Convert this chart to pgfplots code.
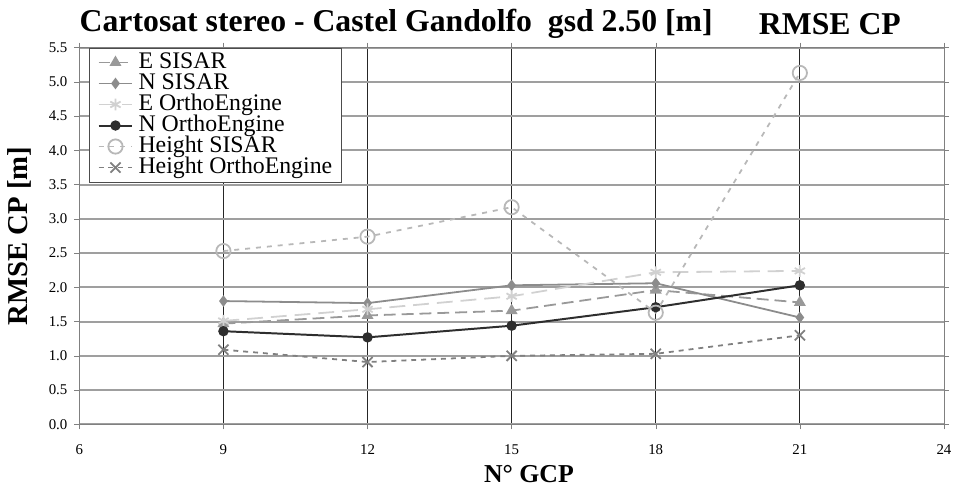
\documentclass[border=0pt]{standalone}
\usepackage{fontspec}
\setmainfont{Liberation Serif}
\usepackage{pgfplots}
\pgfplotsset{compat=1.18}
\usetikzlibrary{calc}
\definecolor{cES}{gray}{0.6}
\definecolor{cNS}{gray}{0.55}
\definecolor{cEO}{gray}{0.82}
\definecolor{cNO}{gray}{0.18}
\definecolor{cHS}{gray}{0.72}
\definecolor{cHO}{gray}{0.5}
\begin{document}
\begin{tikzpicture}
\begin{axis}[
  scale only axis, width=436pt, height=190pt,
  xmin=6, xmax=24, ymin=0, ymax=5.5,
  xtick={6,9,...,24}, ytick={0,0.5,...,5.5},
  /pgf/number format/assume math mode=true,
  yticklabel style={/pgf/number format/.cd,fixed,fixed zerofill,precision=1},
  tick label style={font=\fontsize{7.5}{9}\selectfont},
  xticklabel style={yshift=-4pt},
  grid=major,
  x grid style={black!85, line width=0.45pt},
  y grid style={gray!75, line width=1pt},
  axis line style={gray},
  tick align=outside, major tick length=2.5pt, tick style={gray},
  xlabel={\textbf{N° GCP}},
  ylabel={\textbf{RMSE CP [m]}},
  xlabel style={font=\fontsize{13}{14}\selectfont, at={(rel axis cs:0.52,0)}, anchor=center, yshift=-25pt},
  ylabel style={font=\fontsize{14.5}{16}\selectfont, at={(rel axis cs:-0.069,0.5)}, anchor=center},
  legend style={at={(rel axis cs:0,1)}, anchor=north west, xshift=5pt,
    font=\fontsize{12}{12}\selectfont, draw=black!70, inner xsep=4pt, inner ysep=2pt, row sep=0pt,
    nodes={inner sep=0.6pt, text height=7.6pt, text depth=1.8pt},
    /tikz/every odd column/.append style={column sep=2pt}},
  legend cell align=left,
]
\addplot[cES, line width=0.9pt, dash pattern=on 6pt off 3pt, mark=triangle*, mark size=2.6pt, mark options={solid}]
  coordinates {(9,1.47) (12,1.59) (15,1.66) (18,1.96) (21,1.78)};
\addlegendentry{E SISAR}
\addplot[cNS, line width=0.9pt, mark=diamond*, mark size=2.2pt]
  coordinates {(9,1.80) (12,1.77) (15,2.03) (18,2.06) (21,1.56)};
\addlegendentry{N SISAR}
\addplot[cEO, line width=0.9pt, dash pattern=on 8pt off 4pt, mark=asterisk, mark size=3pt, mark options={solid}]
  coordinates {(9,1.51) (12,1.68) (15,1.87) (18,2.22) (21,2.24)};
\addlegendentry{E OrthoEngine}
\addplot[cNO, line width=1pt, mark=*, mark size=2.1pt]
  coordinates {(9,1.36) (12,1.27) (15,1.44) (18,1.71) (21,2.03)};
\addlegendentry{N OrthoEngine}
\addplot[cHS, line width=0.9pt, dash pattern=on 2.5pt off 3pt, mark=o, mark size=3.6pt, mark options={solid}]
  coordinates {(9,2.53) (12,2.74) (15,3.17) (18,1.63) (21,5.13)};
\addlegendentry{Height SISAR}
\addplot[cHO, line width=0.9pt, dash pattern=on 2.5pt off 2.5pt, mark=x, mark size=3.6pt, mark options={solid}]
  coordinates {(9,1.09) (12,0.91) (15,1.00) (18,1.03) (21,1.30)};
\addlegendentry{Height OrthoEngine}
\end{axis}
\node[anchor=west, font=\bfseries\fontsize{16}{18}\selectfont, inner sep=0pt] at ($(current axis.north west)+(0pt,12pt)$) {Cartosat stereo - Castel Gandolfo\ \ gsd 2.50 [m]};
\node[anchor=west, font=\bfseries\fontsize{16}{18}\selectfont, inner sep=0pt] at ($(current axis.north west)+(342.5pt,12pt)$) {RMSE CP};
\path[use as bounding box] ($(current axis.south west)+(-40pt,-29.5pt)$) rectangle ($(current axis.north east)+(3pt,24pt)$);
\end{tikzpicture}
\end{document}
